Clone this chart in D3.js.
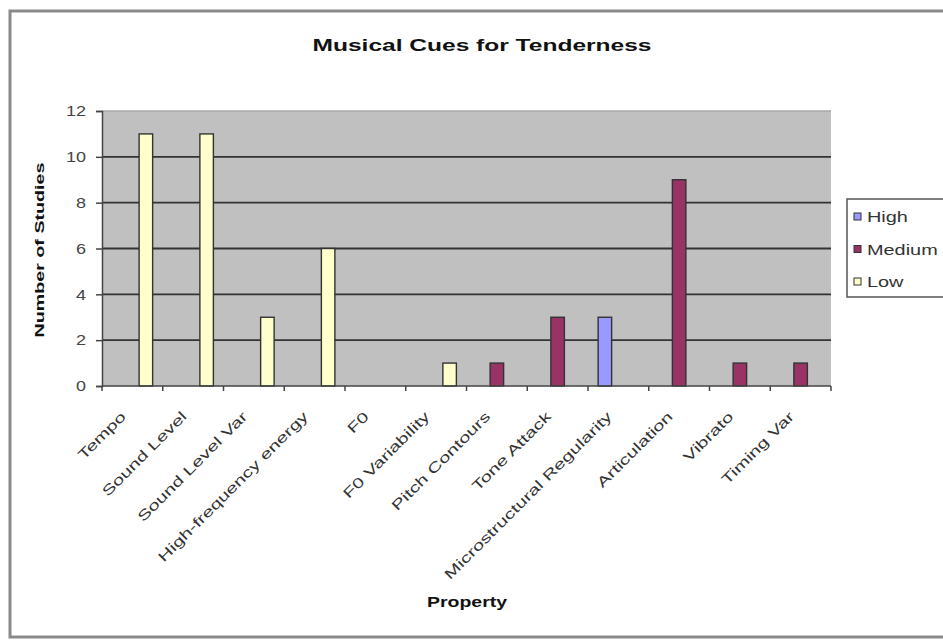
<!DOCTYPE html>
<html>
<head>
<meta charset="utf-8">
<script src="https://cdn.jsdelivr.net/npm/d3@7"></script>
<style>
  html, body { margin: 0; padding: 0; background: #fff; }
  svg { display: block; font-family: "Liberation Sans", Arial, sans-serif; }
</style>
</head>
<body>
<svg id="chart" width="943" height="641"></svg>
<script>
// Study counts per musical property, split by cue level
const categories = ["Tempo", "Sound Level", "Sound Level Var", "High-frequency energy", "F0",
  "F0 Variability", "Pitch Contours", "Tone Attack", "Microstructural Regularity",
  "Articulation", "Vibrato", "Timing Var"];
const seriesNames = ["High", "Medium", "Low"];
const highValues   = [0, 0, 0, 0, 0, 0, 0, 0, 3, 0, 0, 0];
const mediumValues = [0, 0, 0, 0, 0, 0, 1, 3, 0, 9, 1, 1];
const lowValues    = [11, 11, 3, 6, 0, 1, 0, 0, 0, 0, 0, 0];
const yTicks = [0, 2, 4, 6, 8, 10, 12];

const seriesValues = { High: highValues, Medium: mediumValues, Low: lowValues };
const colors = { High: "#9999FF", Medium: "#993366", Low: "#FFFFCC" };

const svg = d3.select("#chart");

// widen a text element along its baseline by factor k
function stretch(sel, k) {
  sel.each(function () {
    const w = this.getComputedTextLength();
    d3.select(this).attr("textLength", w * k).attr("lengthAdjust", "spacingAndGlyphs");
  });
}

// outer chart frame
svg.append("rect")
  .attr("x", 10).attr("y", 11).attr("width", 950).attr("height", 626)
  .attr("fill", "#fff").attr("stroke", "#8a8a8a").attr("stroke-width", 3);

const plot = { left: 102, right: 831, top: 111, bottom: 386 };

const x = d3.scaleBand().domain(categories).range([plot.left, plot.right]).paddingInner(0).paddingOuter(0);
const xs = d3.scaleBand().domain(seriesNames).range([0, x.bandwidth()]).paddingInner(0).paddingOuter(0.75);
const y = d3.scaleLinear().domain([0, 12]).range([plot.bottom, plot.top]);

// plot background
svg.append("rect")
  .attr("x", plot.left).attr("y", plot.top)
  .attr("width", plot.right - plot.left).attr("height", plot.bottom - plot.top)
  .attr("fill", "#C0C0C0");

// top edge of plot
svg.append("line")
  .attr("x1", plot.left).attr("x2", plot.right)
  .attr("y1", y(12)).attr("y2", y(12))
  .attr("stroke", "#a8a8a8").attr("stroke-width", 1.5);

// horizontal gridlines
svg.append("g").selectAll("line")
  .data(yTicks.filter(t => t > 0 && t < 12))
  .join("line")
  .attr("x1", plot.left).attr("x2", plot.right)
  .attr("y1", d => y(d)).attr("y2", d => y(d))
  .attr("stroke", "#333").attr("stroke-width", 1.8);

// bars
const barData = [];
categories.forEach((c, i) => {
  seriesNames.forEach(s => {
    const v = seriesValues[s][i];
    if (v > 0) barData.push({ cat: c, series: s, value: v });
  });
});
svg.append("g").selectAll("rect")
  .data(barData)
  .join("rect")
  .attr("x", d => x(d.cat) + xs(d.series))
  .attr("y", d => y(d.value))
  .attr("width", xs.bandwidth())
  .attr("height", d => y(0) - y(d.value))
  .attr("fill", d => colors[d.series])
  .attr("stroke", "#333")
  .attr("stroke-width", 1.4);

// y axis
const yAxis = svg.append("g")
  .attr("transform", `translate(${plot.left},0)`)
  .call(d3.axisLeft(y).tickValues(yTicks).tickSize(6).tickPadding(10).tickFormat(d3.format("d")));
yAxis.select(".domain").attr("stroke", "#444").attr("stroke-width", 1.5);
yAxis.selectAll(".tick line").attr("stroke", "#444").attr("stroke-width", 1.5);
yAxis.selectAll(".tick text")
  .attr("fill", "#444").attr("font-size", 15)
  .attr("font-family", "Liberation Sans, Arial, sans-serif")
  .call(stretch, 1.2);

// x axis with ticks at category boundaries
const xAxisG = svg.append("g").attr("transform", `translate(0,${plot.bottom})`);
xAxisG.append("line")
  .attr("x1", plot.left).attr("x2", plot.right)
  .attr("stroke", "#444").attr("stroke-width", 1.5);
const boundaries = categories.map(c => x(c)).concat([plot.right]);
xAxisG.selectAll(".bt")
  .data(boundaries)
  .join("line")
  .attr("class", "bt")
  .attr("x1", d => d).attr("x2", d => d)
  .attr("y1", 0).attr("y2", 5)
  .attr("stroke", "#444").attr("stroke-width", 1.5);

// rotated category labels
svg.append("g").selectAll("text")
  .data(categories)
  .join("text")
  .attr("transform", d => `translate(${x(d) + x.bandwidth() / 2 - 13},${plot.bottom + 24}) rotate(-45)`)
  .attr("text-anchor", "end")
  .attr("dy", "0.75em")
  .attr("font-size", 14)
  .attr("fill", "#333")
  .text(d => d)
  .call(stretch, 1.45);

// title
svg.append("text")
  .attr("x", 482).attr("y", 51)
  .attr("text-anchor", "middle")
  .attr("font-size", 17).attr("font-weight", "bold").attr("fill", "#111")
  .attr("textLength", 339).attr("lengthAdjust", "spacingAndGlyphs")
  .text("Musical Cues for Tenderness");

// y axis title
svg.append("text")
  .attr("transform", "translate(44,250) rotate(-90)")
  .attr("text-anchor", "middle")
  .attr("font-size", 13).attr("font-weight", "bold").attr("fill", "#111")
  .attr("textLength", 175).attr("lengthAdjust", "spacingAndGlyphs")
  .text("Number of Studies");

// x axis title
svg.append("text")
  .attr("x", 467).attr("y", 607)
  .attr("text-anchor", "middle")
  .attr("font-size", 14).attr("font-weight", "bold").attr("fill", "#111")
  .attr("textLength", 80).attr("lengthAdjust", "spacingAndGlyphs")
  .text("Property");

// legend
const legend = svg.append("g");
legend.append("rect")
  .attr("x", 847).attr("y", 199).attr("width", 110).attr("height", 98)
  .attr("fill", "#fff").attr("stroke", "#555").attr("stroke-width", 1.5);
const legendY = d3.scalePoint().domain(seriesNames).range([217, 282]);
const items = legend.selectAll("g.item")
  .data(seriesNames)
  .join("g")
  .attr("class", "item")
  .attr("transform", d => `translate(0,${legendY(d)})`);
items.append("rect")
  .attr("x", 854).attr("y", -4).attr("width", 7).attr("height", 7)
  .attr("fill", d => colors[d]).attr("stroke", "#333").attr("stroke-width", 1);
items.append("text")
  .attr("x", 867).attr("dy", "0.36em")
  .attr("font-size", 14).attr("fill", "#333")
  .text(d => d)
  .call(stretch, 1.42);
</script>
</body>
</html>
